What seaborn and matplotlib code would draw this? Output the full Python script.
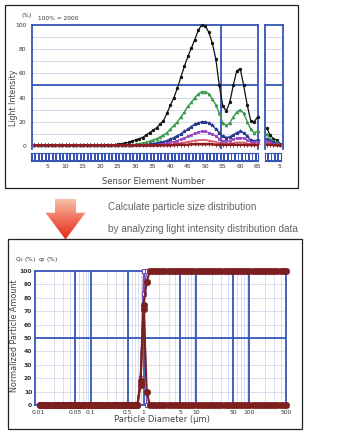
import numpy as np
import matplotlib
matplotlib.use("Agg")
import matplotlib.pyplot as plt
import seaborn as sns
from matplotlib.patches import Rectangle, Polygon

# ---------------- data ----------------
sensors = list(range(1, 66))
rear_sensors = [1, 2, 3, 4, 5]
sensor_ticks = [5, 10, 15, 20, 25, 30, 35, 40, 45, 50, 55, 60, 65]

black = [0.5, 0.5, 0.5, 0.5, 0.5, 0.5, 0.5, 0.5, 0.5, 0.5, 0.5, 0.5, 0.5, 0.5, 0.5,
         0.5, 0.5, 0.5, 0.5, 0.5, 1, 1, 1, 1, 1.5, 2, 2.5, 3, 4, 5,
         6, 7, 9, 11, 13, 15, 18, 21, 27, 34, 40, 48, 57, 66, 74,
         81, 88, 96, 100, 99, 94, 85, 72, 50, 33, 29, 36, 50, 62, 64,
         50, 34, 21, 20, 24]
green = [0.5, 0.5, 0.5, 0.5, 0.5, 0.5, 0.5, 0.5, 0.5, 0.5, 0.5, 0.5, 0.5, 0.5, 0.5,
         0.5, 0.5, 0.5, 0.5, 0.5, 0.5, 0.5, 0.5, 0.5, 0.5, 0.5, 0.5, 0.5, 1, 1.5,
         2, 2.5, 3, 4, 5, 6, 7.5, 9, 11, 14, 17, 20, 24, 28, 33,
         36, 40, 43, 45, 45, 43, 39, 34, 27, 19, 17, 19, 24, 28, 30,
         27, 20, 14, 11, 12]
navy = [0.5, 0.5, 0.5, 0.5, 0.5, 0.5, 0.5, 0.5, 0.5, 0.5, 0.5, 0.5, 0.5, 0.5, 0.5,
        0.5, 0.5, 0.5, 0.5, 0.5, 0.5, 0.5, 0.5, 0.5, 0.5, 0.5, 0.5, 0.5, 0.5, 0.5,
        0.5, 0.5, 1, 1.5, 2, 2.5, 3, 3.5, 4.5, 5.5, 7, 8.5, 10, 12, 14,
        16, 18, 19, 20, 20, 19, 17, 14, 11, 8, 7, 7.5, 9, 11, 12,
        11, 8, 5, 4, 5]
purple = [0.5, 0.5, 0.5, 0.5, 0.5, 0.5, 0.5, 0.5, 0.5, 0.5, 0.5, 0.5, 0.5, 0.5, 0.5,
          0.5, 0.5, 0.5, 0.5, 0.5, 0.5, 0.5, 0.5, 0.5, 0.5, 0.5, 0.5, 0.5, 0.5, 0.5,
          0.5, 0.5, 0.5, 0.5, 0.5, 1, 1.5, 2, 2.5, 3, 3.5, 4.5, 5.5, 6.5, 8,
          9, 10.5, 11.5, 12, 12, 11, 10, 8, 6, 4.5, 4, 4.5, 5.5, 6.5, 7,
          6.5, 5, 3.5, 3, 3]
pink = [0.5, 0.5, 0.5, 0.5, 0.5, 0.5, 0.5, 0.5, 0.5, 0.5, 0.5, 0.5, 0.5, 0.5, 0.5,
        0.5, 0.5, 0.5, 0.5, 0.5, 0.5, 0.5, 0.5, 0.5, 0.5, 0.5, 0.5, 0.5, 0.5, 0.5,
        0.5, 0.5, 0.5, 0.5, 0.5, 0.5, 0.5, 0.5, 1, 1, 1.5, 2, 2.5, 3, 3.5,
        4, 4.5, 5, 5, 5, 4.5, 4, 3.5, 2.5, 2, 1.5, 2, 2.5, 3, 3,
        3, 2, 1.5, 1, 1.5]
darkred = [0.5, 0.5, 0.5, 0.5, 0.5, 0.5, 0.5, 0.5, 0.5, 0.5, 0.5, 0.5, 0.5, 0.5, 0.5,
           0.5, 0.5, 0.5, 0.5, 0.5, 0.5, 0.5, 0.5, 0.5, 0.5, 0.5, 0.5, 0.5, 0.5, 0.5,
           0.5, 0.5, 0.5, 0.5, 0.5, 0.5, 0.5, 0.5, 0.5, 0.5, 0.8, 1, 1, 1, 1,
           1.5, 1.5, 1.5, 1.5, 1.5, 1.5, 1.5, 1, 1, 1, 1, 1, 1, 1, 1,
           1, 0.8, 0.8, 0.8, 0.8]

black_r = [15, 9, 6, 5, 2]
green_r = [10, 6, 4, 3, 1.5]
navy_r = [6, 4, 3, 2, 1]
purple_r = [4, 3, 2, 1.5, 1]
pink_r = [2, 1.5, 1, 1, 0.5]
darkred_r = [1, 1, 0.8, 0.5, 0.5]

diameters = [0.011, 0.013, 0.015, 0.017, 0.020, 0.023, 0.026, 0.030, 0.034, 0.039,
             0.044, 0.051, 0.058, 0.067, 0.076, 0.087, 0.100, 0.115, 0.131, 0.150,
             0.172, 0.197, 0.226, 0.259, 0.296, 0.339, 0.389, 0.445, 0.510, 0.584,
             0.669, 0.766, 0.877, 1.005, 1.151, 1.318, 1.510, 1.729, 1.981, 2.269,
             2.599, 2.976, 3.409, 3.905, 4.472, 5.122, 5.867, 6.720, 7.697, 8.816,
             10.10, 11.56, 13.25, 15.17, 17.38, 19.90, 22.80, 26.11, 29.91, 34.26,
             39.23, 44.94, 51.47, 58.95, 67.52, 77.34, 88.58, 101.5, 116.2, 133.1,
             152.5, 174.6, 200.0, 229.1, 262.4, 300.5, 344.2, 394.2, 451.6, 500.0]
Q3_red = [0, 0, 0, 0, 0, 0, 0, 0, 0, 0,
          0, 0, 0, 0, 0, 0, 0, 0, 0, 0,
          0, 0, 0, 0, 0, 0, 0, 0, 0, 0,
          0, 0, 15, 75, 92, 100, 100, 100, 100, 100,
          100, 100, 100, 100, 100, 100, 100, 100, 100, 100,
          100, 100, 100, 100, 100, 100, 100, 100, 100, 100,
          100, 100, 100, 100, 100, 100, 100, 100, 100, 100,
          100, 100, 100, 100, 100, 100, 100, 100, 100, 100]
q3_red = [0, 0, 0, 0, 0, 0, 0, 0, 0, 0,
          0, 0, 0, 0, 0, 0, 0, 0, 0, 0,
          0, 0, 0, 0, 0, 0, 0, 0, 0, 0,
          0, 0, 18, 72, 10, 0, 0, 0, 0, 0,
          0, 0, 0, 0, 0, 0, 0, 0, 0, 0,
          0, 0, 0, 0, 0, 0, 0, 0, 0, 0,
          0, 0, 0, 0, 0, 0, 0, 0, 0, 0,
          0, 0, 0, 0, 0, 0, 0, 0, 0, 0]
purple_diam = [0.766, 0.877, 1.005, 1.151, 1.318]
Q3_purple = [0, 20, 83, 100, 100]
q3_purple = [0, 20, 100, 0, 0]
diam_ticks = [0.01, 0.05, 0.1, 0.5, 1, 5, 10, 50, 100, 500]
diam_labels = ["0.01", "0.05", "0.1", "0.5", "1", "5", "10", "50", "100", "500"]

# ---------------- style ----------------
sns.set_style("white")
plt.rcParams['font.family'] = ['DejaVu Sans']
W, H = 339, 437
BLUE = '#3556b8'
LIGHT = '#d3d9ec'
TXT = '#333333'

fig = plt.figure(figsize=(W / 100, H / 100), dpi=100)
fig.patch.set_facecolor('white')


def rect(l, t, r, b):
    return [l / W, 1 - b / H, (r - l) / W, (b - t) / H]


def fx(x):
    return x / W


def fy(y):
    return 1 - y / H


# panel frames
for (l, t, r, b) in [(5, 5, 298, 188), (8, 239, 302, 429)]:
    fig.patches.append(Rectangle((fx(l), fy(b)), (r - l) / W, (b - t) / H,
                                 transform=fig.transFigure, fill=False,
                                 edgecolor='#222222', lw=0.9))

# ---------------- top chart ----------------
series = [
    (black, black_r, '#111111', 'o', 0.9, 1.8, 3),
    (green, green_r, '#3b9a4c', '^', 1.0, 2.0, 4),
    (navy, navy_r, '#273a8c', '*', 1.0, 2.5, 5),
    (purple, purple_r, '#9b45c0', 's', 1.0, 1.5, 6),
    (pink, pink_r, '#e0607a', '_', 1.2, 2.5, 7),
    (darkred, darkred_r, '#8a1c1c', '|', 1.8, 2.5, 8),
]


def style_top(ax, xlim):
    ax.set_xlim(*xlim)
    ax.set_ylim(-2.5, 100)
    ax.set_facecolor('white')
    for y in [10, 20, 30, 40, 60, 70, 80, 90]:
        ax.axhline(y, color=LIGHT, lw=0.7, zorder=0)
    ax.axhline(50, color=BLUE, lw=1.3, zorder=1)
    for s in ['left', 'right', 'top']:
        ax.spines[s].set_color(BLUE)
        ax.spines[s].set_linewidth(1.3)
    ax.spines['bottom'].set_visible(False)
    ax.set_xticks([])
    ax.set_xlabel('')
    ax.set_ylabel('')


ax1 = fig.add_axes(rect(32, 25, 258, 149))
style_top(ax1, (0.3, 65.1))
ax1.axvline(54.5, color=BLUE, lw=1.3, zorder=1)
for vals, rvals, col, mk, lw, ms, z in series:
    sns.lineplot(x=sensors, y=vals, ax=ax1, color=col, lw=lw, marker=mk,
                 markersize=ms, markeredgecolor=col, markeredgewidth=0.6,
                 clip_on=False, zorder=z)
ax1.set_yticks([0, 20, 40, 60, 80, 100])
ax1.set_yticklabels(['0', '20', '40', '60', '80', '100'], fontsize=4.3, color=TXT)
ax1.tick_params(axis='y', length=0, pad=4)

ax2 = fig.add_axes(rect(265, 25, 283, 149))
style_top(ax2, (0.5, 5.85))
for vals, rvals, col, mk, lw, ms, z in series:
    sns.lineplot(x=rear_sensors, y=rvals, ax=ax2, color=col, lw=lw, marker=mk,
                 markersize=ms, markeredgecolor=col, markeredgewidth=0.6,
                 clip_on=False, zorder=z)
ax2.set_yticks([])

# sensor strips
for (l, r, xs, xl, ticks) in [(31, 258, sensors, (0.3, 65.1), sensor_ticks),
                              (265, 281, rear_sensors, (0.5, 5.4), [5])]:
    axs = fig.add_axes(rect(l, 153, r, 161))
    axs.set_facecolor(BLUE)
    axs.bar(xs, [0.64] * len(xs), bottom=0.18, width=0.5, color='white', linewidth=0)
    axs.set_xlim(*xl)
    axs.set_ylim(0, 1)
    axs.set_yticks([])
    axs.set_xticks(ticks)
    axs.set_xticklabels([str(t) for t in ticks], fontsize=4.3, color=TXT)
    axs.tick_params(axis='x', length=0, pad=2.5)
    for s in axs.spines.values():
        s.set_color(BLUE)
        s.set_linewidth(0.8)

fig.text(fx(21), fy(15), '(%)', fontsize=4.2, color=TXT, va='center')
fig.text(fx(38), fy(18.5), '100% = 2000', fontsize=4.2, color=TXT, va='center')
fig.text(fx(13), fy(98), 'Light Intensity', fontsize=5.6, color='#444444',
         rotation=90, ha='center', va='center')
fig.text(fx(154), fy(182), 'Sensor Element Number', fontsize=6.0, color='#444444',
         ha='center', va='center')

# ---------------- middle arrow and text ----------------
axa = fig.add_axes(rect(44, 198, 87, 240))
axa.set_xlim(44, 87)
axa.set_ylim(240, 198)
axa.axis('off')
grad = np.linspace(0, 1, 100).reshape(-1, 1)
cmap = matplotlib.colors.LinearSegmentedColormap.from_list('arr', ['#f9c3ae', '#f0705a', '#e2261a'])
im = axa.imshow(grad, cmap=cmap, extent=(44, 87, 240, 198), aspect='auto')
poly = Polygon([(55, 199), (76, 199), (76, 212.7), (85.5, 212.7), (65.5, 239.5),
                (45.5, 212.7), (55, 212.7)], closed=True, transform=axa.transData,
               facecolor='none', edgecolor='none')
axa.add_patch(poly)
im.set_clip_path(poly)

fig.text(fx(108), fy(207.5), 'Calculate particle size distribution', fontsize=7.2,
         color='#666666', family='Liberation Sans', va='center')
fig.text(fx(108), fy(229), 'by analyzing light intensity distribution data', fontsize=7.2,
         color='#666666', family='Liberation Sans', va='center')

# ---------------- bottom chart ----------------
ax3 = fig.add_axes(rect(35, 271, 286, 405))
ax3.set_xscale('log')
ax3.set_xlim(0.0088, 500)
ax3.set_ylim(0, 100)
for dec in [0.01, 0.1, 1, 10, 100]:
    for m in range(2, 10):
        v = dec * m
        if v < 500:
            ax3.axvline(v, color=LIGHT, lw=0.6, zorder=0)
for y in [10, 20, 30, 40, 60, 70, 80, 90]:
    ax3.axhline(y, color=LIGHT, lw=0.6, zorder=0)
for v in [0.05, 0.1, 0.5, 1, 5, 10, 50, 100]:
    ax3.axvline(v, color=BLUE, lw=1.3, zorder=1)
ax3.axhline(50, color=BLUE, lw=1.3, zorder=1)
for s in ax3.spines.values():
    s.set_color(BLUE)
    s.set_linewidth(1.3)

sns.lineplot(x=purple_diam, y=q3_purple, ax=ax3, color='#7a4fb5', lw=1.0, marker='s',
             markersize=3.4, markerfacecolor='white', markeredgecolor='#7a4fb5',
             markeredgewidth=0.8, clip_on=False, zorder=3)
sns.lineplot(x=purple_diam, y=Q3_purple, ax=ax3, color='#7a4fb5', lw=1.0, marker='s',
             markersize=3.4, markerfacecolor='white', markeredgecolor='#7a4fb5',
             markeredgewidth=0.8, clip_on=False, zorder=3)
for vals in [q3_red, Q3_red]:
    sns.lineplot(x=diameters, y=vals, ax=ax3, color='#7b1f1f', lw=1.5, marker='o',
                 markersize=4.8, markeredgecolor='#7b1f1f', markeredgewidth=0.3,
                 clip_on=False, zorder=4)

ax3.set_xticks(diam_ticks)
ax3.set_xticklabels(diam_labels, fontsize=4.3, color=TXT)
ax3.xaxis.set_minor_locator(matplotlib.ticker.NullLocator())
ax3.set_yticks(list(range(0, 101, 10)))
ax3.set_yticklabels([str(v) for v in range(0, 101, 10)], fontsize=4.3, color=TXT,
                    fontweight='bold')
ax3.tick_params(axis='both', length=0)
ax3.tick_params(axis='x', pad=3.5)
ax3.tick_params(axis='y', pad=2)
ax3.set_xlabel('')
ax3.set_ylabel('')

fig.text(fx(15), fy(260), 'Q$_3$ (%)  q$_3$ (%)', fontsize=4.2, color=TXT, va='center')
fig.text(fx(15), fy(336), 'Normalized Particle Amount', fontsize=5.8, color='#444444',
         rotation=90, ha='center', va='center')
fig.text(fx(162), fy(420), 'Particle Diameter (\u00b5m)', fontsize=6.0, color='#444444',
         ha='center', va='center')

fig.savefig('out.png', dpi=100, facecolor='white')
